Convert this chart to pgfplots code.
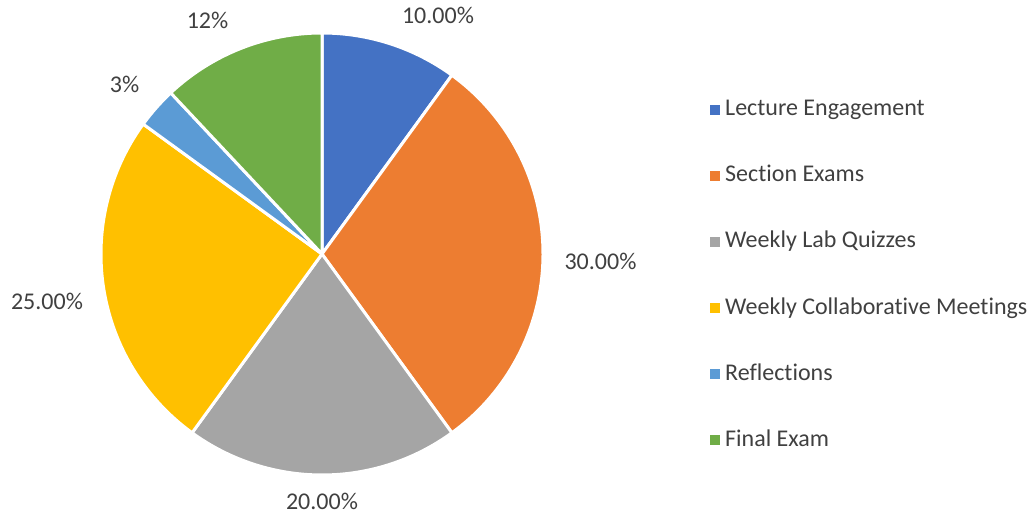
\documentclass[border=0pt]{standalone}
\usepackage{pgfplots}
\pgfplotsset{compat=1.18}
\usepackage{pgfplotstable}
\usepackage{fontspec}
\setmainfont{Carlito}[RawFeature={-liga;-clig;-dlig;-calt;-rlig}]
\definecolor{cA}{HTML}{4472C4}
\definecolor{cB}{HTML}{ED7D31}
\definecolor{cC}{HTML}{A5A5A5}
\definecolor{cD}{HTML}{FFC000}
\definecolor{cE}{HTML}{5B9BD5}
\definecolor{cF}{HTML}{70AD47}
\definecolor{txt}{HTML}{404040}
\pgfplotstableread[col sep=comma]{
name,value,color,pct,lx,ly
Lecture Engagement,10,cA,10.00,438,490
Section Exams,30,cB,30.00,600.5,244
Weekly Lab Quizzes,20,cC,20.00,322,5
Weekly Collaborative Meetings,25,cD,25.00,47,204
Reflections,3,cE,3,124.5,421
Final Exam,12,cF,12,207.5,485
}\piedata
\tikzset{lbl/.style={font=\fontsize{24bp}{28bp}\selectfont, text=txt}}
\begin{document}
\begin{tikzpicture}
\begin{axis}[scale only axis, width=1034bp, height=514bp,
  xmin=0, xmax=1034, ymin=0, ymax=514, hide axis, clip=false]
\addplot[draw=none] coordinates {(0,0) (1034,514)};
\gdef\angacc{90}
\pgfplotsinvokeforeach{0,...,5}{
  \pgfplotstablegetelem{#1}{value}\of\piedata \global\let\val\pgfplotsretval
  \pgfplotstablegetelem{#1}{color}\of\piedata \global\let\col\pgfplotsretval
  \pgfplotstablegetelem{#1}{name}\of\piedata \global\let\nm\pgfplotsretval
  \pgfplotstablegetelem{#1}{pct}\of\piedata \global\let\pc\pgfplotsretval
  \pgfplotstablegetelem{#1}{lx}\of\piedata \global\let\lx\pgfplotsretval
  \pgfplotstablegetelem{#1}{ly}\of\piedata \global\let\ly\pgfplotsretval
  \pgfmathsetmacro{\angend}{\angacc-3.6*\val}
  \pgfmathsetmacro{\legy}{398-66*#1}
  \pgfmathsetmacro{\sqlo}{\legy+1}
  \pgfmathsetmacro{\sqhi}{\legy+11}
  \edef\tmp{%
    \noexpand\filldraw[fill=\col, draw=white, line width=3bp, line join=round]
      (axis cs:322,260) -- ++(\angacc:221bp) arc[start angle=\angacc, end angle=\angend, radius=221bp] -- cycle;
    \noexpand\node[lbl, anchor=base, inner sep=0pt] at (axis cs:\lx,\ly) {\pc\noexpand\%};
    \noexpand\fill[\col] (axis cs:710,\sqlo) rectangle (axis cs:720,\sqhi);
    \noexpand\node[lbl, anchor=base west, inner sep=0pt] at (axis cs:725,\legy) {\nm};
  }%
  \tmp
  \global\let\angacc\angend
}
\end{axis}
\end{tikzpicture}
\end{document}
